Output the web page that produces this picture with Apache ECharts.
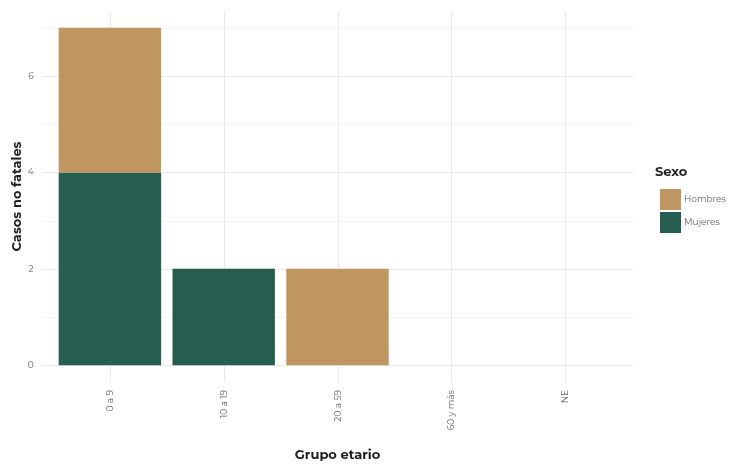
<!DOCTYPE html>
<html><head><meta charset="utf-8">
<script src="https://cdn.jsdelivr.net/npm/echarts@6/dist/echarts.min.js"></script>
<style>html,body{margin:0;padding:0;background:#fff}#c{width:731px;height:468px}</style>
</head><body><div id="c"></div>
<script>
const categories = ["0 a 9", "10 a 19", "20 a 59", "60 y más", "NE"];
const mujeres = [4, 2, 0, 0, 0];
const hombres = [3, 0, 2, 0, 0];
const yTicks = [0, 2, 4, 6];
const yMinorTicks = [1, 3, 5, 7];

const colHombres = "#BF9660";
const colMujeres = "#255D4F";
const font = "Montserrat, 'Open Sans', 'DejaVu Sans', sans-serif";

const ymin = -0.35, ymax = 7.35;
const chart = echarts.init(document.getElementById('c'));
chart.setOption({
  animation: false,
  backgroundColor: "#fff",
  grid: {left: 53, right: 109, top: 11, bottom: 86},
  xAxis: {type: 'category', data: categories, show: false},
  yAxis: {type: 'value', min: ymin, max: ymax, show: false, splitLine: {show: false}},
  series: [
    {type: 'bar', name: "Mujeres", stack: 's', data: mujeres,
     itemStyle: {color: colMujeres}, barWidth: '90%', z: 5},
    {type: 'bar', name: "Hombres", stack: 's', data: hombres,
     itemStyle: {color: colHombres}, barWidth: '90%', z: 5}
  ],
  legend: {
    data: ["Hombres", "Mujeres"], orient: 'vertical', left: 655, top: 184,
    itemWidth: 21, itemHeight: 21, itemGap: 2, icon: 'rect',
    textStyle: {color: "#666", fontSize: 9, fontFamily: font, padding: [0, 0, 0, -2]}
  }
});

function draw() {
  const g = [];
  const px = i => chart.convertToPixel({gridIndex: 0}, [i, 0])[0];
  const py = v => chart.convertToPixel({gridIndex: 0}, [0, v])[1];
  const band = px(1) - px(0);
  const x0 = px(0) - 0.6 * band, x1 = px(categories.length - 1) + 0.6 * band;
  const yTop = py(ymax), yBot = py(ymin);
  yMinorTicks.forEach(v => {
    const y = Math.round(py(v)) + 0.5;
    g.push({type: 'line', z: -1, silent: true, shape: {x1: x0, y1: y, x2: x1, y2: y}, style: {stroke: "#f3f3f3", lineWidth: 1}});
  });
  yTicks.forEach(v => {
    const y = Math.round(py(v)) + 0.5;
    g.push({type: 'line', z: -1, silent: true, shape: {x1: x0, y1: y, x2: x1, y2: y}, style: {stroke: "#e8e8e8", lineWidth: 1}});
    g.push({type: 'text', x: x0 - 8, y: y, style: {text: String(v), align: 'right', verticalAlign: 'middle', fill: "#666", fontSize: 9, fontFamily: font}});
  });
  categories.forEach((c, i) => {
    const x = Math.round(px(i)) + 0.5;
    g.push({type: 'line', z: -1, silent: true, shape: {x1: x, y1: yTop, x2: x, y2: yBot}, style: {stroke: "#e8e8e8", lineWidth: 1}});
    g.push({type: 'text', x: x, y: yBot + 8, rotation: Math.PI / 2,
      style: {text: c, align: 'right', verticalAlign: 'middle', fill: "#666", fontSize: 9, fontFamily: font}});
  });
  g.push({type: 'text', x: 17, y: (yTop + yBot) / 2, rotation: Math.PI / 2,
    style: {text: "Casos no fatales", align: 'center', verticalAlign: 'middle', fill: "#222", fontSize: 13, fontWeight: 'bold', fontFamily: font}});
  g.push({type: 'text', x: (x0 + x1) / 2, y: 455,
    style: {text: "Grupo etario", align: 'center', verticalAlign: 'middle', fill: "#222", fontSize: 13, fontWeight: 'bold', fontFamily: font}});
  g.push({type: 'text', x: 655, y: 172, style: {text: "Sexo", align: 'left', verticalAlign: 'middle', fill: "#222", fontSize: 13, fontWeight: 'bold', fontFamily: font}});
  chart.setOption({graphic: g});
}
draw();
</script></body></html>
